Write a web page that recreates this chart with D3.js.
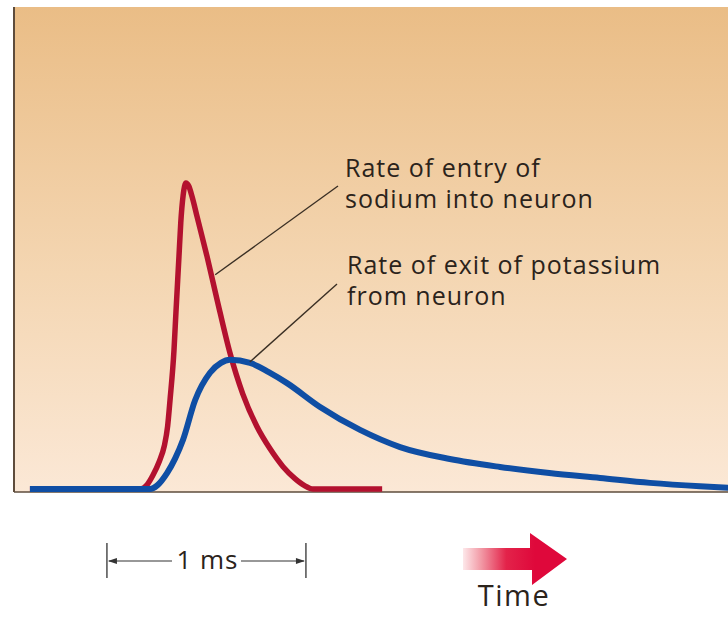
<!DOCTYPE html>
<html>
<head>
<meta charset="utf-8">
<title>Sodium and potassium flow</title>
<script src="https://cdn.jsdelivr.net/npm/d3@7"></script>
<style>
body { margin: 0; padding: 0; background: #fff; }
svg text { font-family: "Open Sans", sans-serif; fill: #2b231b; }
</style>
</head>
<body>
<div id="chart"></div>
<script>

// time in ms, rate in % of sodium peak
var sodiumT = [0.08, 0.43, 0.633, 0.67, 0.698, 0.73, 0.755, 0.772, 0.784, 0.804, 0.814, 0.829, 0.838, 0.85, 0.864, 0.878, 0.895, 0.92, 0.97, 1.02, 1.085, 1.15, 1.22, 1.286, 1.352, 1.412, 1.46, 1.503, 1.85];
var sodiumV = [0, 0, 0, 1.5, 4.5, 9, 14, 20.5, 29, 45.4, 58, 76, 87, 96, 100, 99, 95.5, 89, 76, 62, 44.5, 31, 20.5, 13.2, 7.3, 3.4, 1.1, 0, 0];

var potassiumT = [0.08, 0.683, 0.72, 0.769, 0.81, 0.849, 0.91, 0.985, 1.04, 1.085, 1.186, 1.28, 1.372, 1.538, 1.739, 1.94, 2.19, 2.442, 2.69, 2.945, 3.196, 3.447, 3.6];
var potassiumV = [0, 0, 1.2, 5.2, 10, 16, 29, 38, 41.2, 42.2, 41.2, 38.2, 34.6, 26.8, 19.3, 13.7, 9.8, 7.2, 5.2, 3.6, 2.0, 0.9, 0.4];

var sodiumLabel = ["Rate of entry of", "sodium into neuron"];
var potassiumLabel = ["Rate of exit of potassium", "from neuron"];
var scaleBarLabel = "1 ms";
var timeLabel = "Time";

var width = 728, height = 617;
var frame = {left: 14, top: 7, right: 728, bottom: 492};

var svg = d3.select('#chart').append('svg')
    .attr('width', width)
    .attr('height', height);

var defs = svg.append('defs');
var bg = defs.append('linearGradient')
    .attr('id', 'bg').attr('x1', 0).attr('y1', 0).attr('x2', 0).attr('y2', 1);
bg.append('stop').attr('offset', '0%').attr('stop-color', '#eabd86');
bg.append('stop').attr('offset', '55%').attr('stop-color', '#f4d6b2');
bg.append('stop').attr('offset', '100%').attr('stop-color', '#fbe8d6');

var arrowGrad = defs.append('linearGradient')
    .attr('id', 'arrowGrad')
    .attr('gradientUnits', 'userSpaceOnUse')
    .attr('x1', 463).attr('y1', 0).attr('x2', 535).attr('y2', 0);
arrowGrad.append('stop').attr('offset', '0%').attr('stop-color', '#fde8ea');
arrowGrad.append('stop').attr('offset', '25%').attr('stop-color', '#f29aa6');
arrowGrad.append('stop').attr('offset', '60%').attr('stop-color', '#e3234a');
arrowGrad.append('stop').attr('offset', '100%').attr('stop-color', '#df083b');

// scales: 1 ms = 199 px
var x = d3.scaleLinear().domain([0, 3.6]).range([frame.left, frame.left + 3.6 * 199]);
var y = d3.scaleLinear().domain([0, 100]).range([489, 183]);

svg.append('rect')
    .attr('x', frame.left).attr('y', frame.top)
    .attr('width', frame.right - frame.left)
    .attr('height', frame.bottom - frame.top)
    .attr('fill', 'url(#bg)');

svg.append('line')
    .attr('x1', frame.left).attr('x2', frame.left)
    .attr('y1', frame.top).attr('y2', frame.bottom)
    .attr('stroke', '#5e4c3c').attr('stroke-width', 2);
svg.append('line')
    .attr('x1', frame.left).attr('x2', frame.right)
    .attr('y1', frame.bottom).attr('y2', frame.bottom)
    .attr('stroke', '#5e4c3c').attr('stroke-width', 1.5);

var line = d3.line()
    .x(function(d) { return x(d[0]); })
    .y(function(d) { return y(d[1]); })
    .curve(d3.curveMonotoneX);

var sodium = d3.zip(sodiumT, sodiumV);
var potassium = d3.zip(potassiumT, potassiumV);

svg.append('path')
    .attr('d', line(sodium))
    .attr('fill', 'none')
    .attr('stroke', '#b3112f')
    .attr('stroke-width', 5.5)
    .attr('stroke-linejoin', 'round');

svg.append('path')
    .attr('d', line(potassium))
    .attr('fill', 'none')
    .attr('stroke', '#0f4ea4')
    .attr('stroke-width', 6);

// leader lines
var leaders = [
  {from: [0.996, 70], to: [338, 186]},
  {from: [1.17, 41.5], to: [337, 284]}
];
svg.selectAll('.leader').data(leaders).enter().append('line')
    .attr('class', 'leader')
    .attr('x1', function(d) { return x(d.from[0]) + 3; })
    .attr('y1', function(d) { return y(d.from[1]); })
    .attr('x2', function(d) { return d.to[0]; })
    .attr('y2', function(d) { return d.to[1]; })
    .attr('stroke', '#3a2f24')
    .attr('stroke-width', 1.4);

// each label line as its own text
function label(lines, lx, ly) {
  lines.forEach(function(s, i) {
    svg.append('text')
      .attr('x', lx).attr('y', ly + i * 31)
      .attr('font-size', 25).attr('letter-spacing', 1)
      .text(s);
  });
}
label(sodiumLabel, 345, 177);
label(potassiumLabel, 347, 274);

// 1 ms scale bar
var barStart = 0.467;
var bx0 = x(barStart), bx1 = x(barStart + 1), by = 561;
var bar = svg.append('g').attr('stroke', '#333').attr('fill', '#333');
bar.append('line').attr('x1', bx0).attr('x2', bx0).attr('y1', 543).attr('y2', 578).attr('stroke-width', 1.3);
bar.append('line').attr('x1', bx1).attr('x2', bx1).attr('y1', 543).attr('y2', 578).attr('stroke-width', 1.3);
bar.append('line').attr('x1', bx0 + 2).attr('x2', 172).attr('y1', by).attr('y2', by).attr('stroke-width', 1.2);
bar.append('line').attr('x1', 241).attr('x2', bx1 - 2).attr('y1', by).attr('y2', by).attr('stroke-width', 1.2);
bar.append('path').attr('stroke', 'none')
    .attr('d', 'M' + (bx0 + 1) + ',' + by + 'l9,-3v6z');
bar.append('path').attr('stroke', 'none')
    .attr('d', 'M' + (bx1 - 1) + ',' + by + 'l-9,-3v6z');
svg.append('text')
    .attr('x', (bx0 + bx1) / 2 + 1).attr('y', 569)
    .attr('text-anchor', 'middle')
    .attr('font-size', 26).attr('letter-spacing', 1)
    .text(scaleBarLabel);

// time arrow
svg.append('path')
    .attr('d', 'M463,548H530V533L567,559L532,585V570H463Z')
    .attr('fill', 'url(#arrowGrad)');
svg.append('text')
    .attr('x', 514).attr('y', 606)
    .attr('text-anchor', 'middle')
    .attr('font-size', 29).attr('letter-spacing', 1.5)
    .text(timeLabel);

</script>
</body>
</html>
